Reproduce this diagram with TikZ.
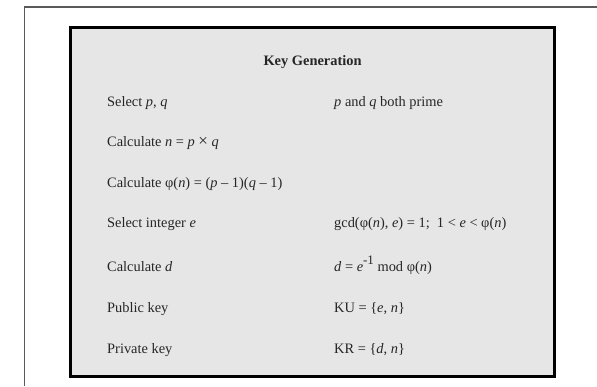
\documentclass[tikz,border=0pt]{standalone}
\usepackage{fontspec}
\setmainfont{Liberation Serif}
\definecolor{panelfill}{HTML}{E6E6E6}
\definecolor{framegray}{HTML}{5A5A5A}
\tikzset{
  lbl/.style={anchor=base west, inner sep=0pt, font=\fontsize{14.4bp}{17bp}\selectfont, text=black!85},
  ttl/.style={anchor=base, inner sep=0pt, font=\fontsize{14.4bp}{17bp}\selectfont\bfseries, text=black!85}
}
\newcommand{\mi}[1]{\textit{#1}}
\begin{document}
\begin{tikzpicture}[x=1bp,y=-1bp]
\useasboundingbox (0,0) rectangle (597,386);
\draw[framegray, line width=1.6bp] (597,7) -- (24.5,7) -- (24.5,386);
\draw[black, line width=2.8bp, fill=panelfill] (70.5,27.2) rectangle (554.5,376.2);
\node[ttl] (title) at (312.5,65) {Key Generation};
\node[lbl] (l1) at (107,106) {Select \mi{p}, \mi{q}};
\node[lbl] (r1) at (334,106) {\mi{p} and \mi{q} both prime};
\node[lbl] (l2) at (107,146) {Calculate \mi{n} = \mi{p} {\fontsize{17bp}{17bp}\selectfont ×} \mi{q}};
\node[lbl] (l3) at (107,187) {Calculate φ(\mi{n}) = (\mi{p} – 1)(\mi{q} – 1)};
\node[lbl] (l4) at (107,227) {Select integer \mi{e}};
\node[lbl] (r4) at (334,227) {gcd(φ(\mi{n}), \mi{e}) = 1;\ \ 1 < \mi{e} < φ(\mi{n})};
\node[lbl] (l5) at (107,271) {Calculate \mi{d}};
\node[lbl] (r5) at (334,271) {\mi{d} = \mi{e}\raisebox{0.42em}{\fontsize{13bp}{13bp}\selectfont -1} mod φ(\mi{n})};
\node[lbl] (l6) at (107,312) {Public key};
\node[lbl] (r6) at (334,312) {KU = \{\mi{e}, \mi{n}\}};
\node[lbl] (l7) at (107,353) {Private key};
\node[lbl] (r7) at (334,353) {KR = \{\mi{d}, \mi{n}\}};
\end{tikzpicture}
\end{document}
